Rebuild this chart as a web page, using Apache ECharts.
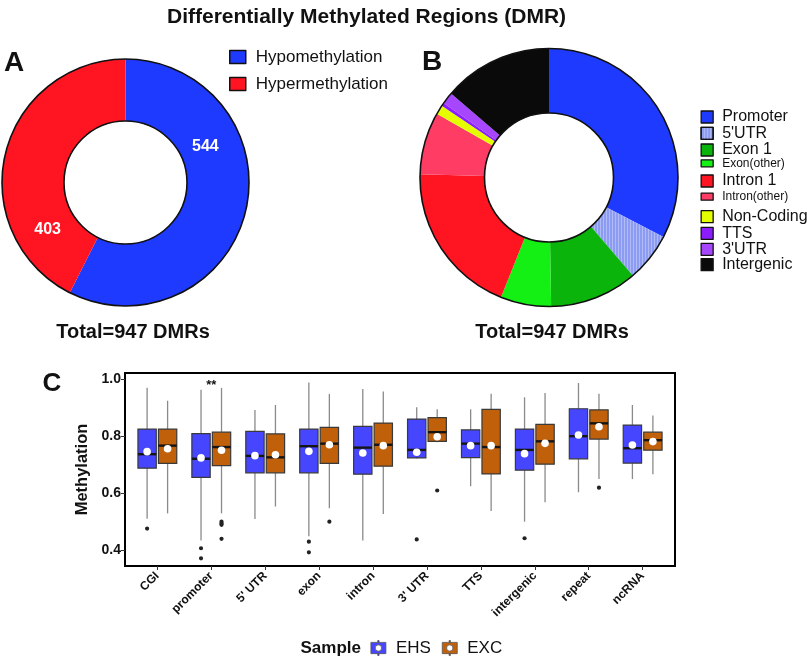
<!DOCTYPE html>
<html>
<head>
<meta charset="utf-8">
<script src="https://cdn.jsdelivr.net/npm/echarts@6/dist/echarts.min.js"></script>
<style>html,body{margin:0;padding:0;background:#fff}#chart{width:807px;height:670px}</style>
</head>
<body>
<div id="chart"></div>
<script>
// ---------- Data ----------
const titleText = 'Differentially Methylated Regions (DMR)';
const totalText = 'Total=947 DMRs';

// Panel A
const dmrDirections = ['Hypomethylation', 'Hypermethylation'];
const dmrDirectionCounts = [544, 403];
const dmrDirectionColors = ['#1f3aff', '#ff1422'];

// Panel B
const regionNames = ['Promoter', "5'UTR", 'Exon 1', 'Exon(other)', 'Intron 1', 'Intron(other)', 'Non-Coding', 'TTS', "3'UTR", 'Intergenic'];
const regionCounts = [309, 58, 104, 60, 183, 74, 11, 4, 14, 130];
const regionColors = ['#1f3aff', '#8c9cf2', '#0ab40a', '#14f014', '#ff1422', '#ff3c64', '#e6ff00', '#8a1cff', '#a646ff', '#0a0a0a'];
const regionSmall = [false, false, false, true, false, true, false, false, false, false];

// Panel C
const featureCategories = ['CGI', 'promoter', "5' UTR", 'exon', 'intron', "3' UTR", 'TTS', 'intergenic', 'repeat', 'ncRNA'];
const yTicks = [0.4, 0.6, 0.8, 1.0];

const ehsLow  = [0.511, 0.435, 0.510, 0.450, 0.435, 0.722, 0.625, 0.501, 0.604, 0.650];
const ehsQ1   = [0.688, 0.656, 0.672, 0.672, 0.667, 0.724, 0.725, 0.681, 0.721, 0.706];
const ehsMed  = [0.737, 0.721, 0.731, 0.765, 0.760, 0.752, 0.774, 0.752, 0.800, 0.758];
const ehsQ3   = [0.825, 0.809, 0.817, 0.825, 0.834, 0.860, 0.822, 0.825, 0.896, 0.839];
const ehsHigh = [0.969, 0.962, 0.892, 0.988, 0.965, 0.901, 0.894, 0.936, 0.986, 0.909];
const ehsMean = [0.746, 0.724, 0.732, 0.747, 0.741, 0.744, 0.767, 0.739, 0.804, 0.769];

const excLow  = [0.530, 0.530, 0.554, 0.548, 0.528, 0.779, 0.538, 0.569, 0.650, 0.667];
const excQ1   = [0.705, 0.697, 0.672, 0.705, 0.695, 0.782, 0.668, 0.702, 0.790, 0.751];
const excMed  = [0.767, 0.762, 0.726, 0.774, 0.770, 0.814, 0.762, 0.782, 0.845, 0.786];
const excQ3   = [0.825, 0.814, 0.808, 0.831, 0.846, 0.865, 0.894, 0.841, 0.892, 0.814];
const excHigh = [0.924, 0.969, 0.909, 0.948, 0.956, 0.894, 0.948, 0.951, 0.948, 0.872];
const excMean = [0.756, 0.751, 0.735, 0.770, 0.767, 0.798, 0.767, 0.775, 0.833, 0.781];

// outliers: [category index, value]
const ehsOutliers = [[0, 0.477], [1, 0.408], [1, 0.373], [3, 0.431], [3, 0.394], [5, 0.439], [7, 0.443]];
const excOutliers = [[1, 0.501], [1, 0.495], [1, 0.490], [1, 0.441], [3, 0.501], [5, 0.610], [8, 0.620]];

const significance = [[1, 0.976, '**']];

const sampleNames = ['EHS', 'EXC'];
const sampleColors = ['#4646ff', '#c0600a'];

// ---------- Build ----------
const FONT = '"Liberation Sans", Arial, Helvetica, sans-serif';
const chart = echarts.init(document.getElementById('chart'), null, {renderer: 'canvas'});

const boxOffset = 0.19;   // fraction of band
const boxFrac = 0.34;

function boxRows(low, q1, med, q3, high, mean) {
  return featureCategories.map((c, i) => [i, low[i], q1[i], med[i], q3[i], high[i], mean[i]]);
}
function boxRenderer(off, fill) {
  return function (params, api) {
    const i = api.value(0);
    const band = api.size([1, 0])[0];
    const cx = api.coord([i, 0.7])[0] + off * band;
    const w = boxFrac * band;
    const y = k => api.coord([i, api.value(k)])[1];
    const yLow = y(1), yQ1 = y(2), yMed = y(3), yQ3 = y(4), yHigh = y(5), yMean = y(6);
    const wl = {stroke: '#8a8a8a', lineWidth: 1.3};
    return {
      type: 'group',
      children: [
        {type: 'line', shape: {x1: cx, y1: yHigh, x2: cx, y2: yQ3}, style: wl},
        {type: 'line', shape: {x1: cx, y1: yQ1, x2: cx, y2: yLow}, style: wl},
        {type: 'rect', shape: {x: cx - w / 2, y: yQ3, width: w, height: yQ1 - yQ3}, style: {fill: fill, stroke: '#3a3a3a', lineWidth: 1.2}},
        {type: 'line', shape: {x1: cx - w / 2, y1: yMed, x2: cx + w / 2, y2: yMed}, style: {stroke: '#151515', lineWidth: 2.4}},
        {type: 'circle', shape: {cx: cx, cy: yMean, r: 3.8}, style: {fill: '#ffffff'}}
      ]
    };
  };
}
function outlierRenderer(off) {
  return function (params, api) {
    const i = api.value(0);
    const band = api.size([1, 0])[0];
    const p = api.coord([i, api.value(1)]);
    return {type: 'circle', shape: {cx: p[0] + off * band, cy: p[1], r: 2.1}, style: {fill: '#222'}};
  };
}

const legendIcon = 'path://M0,2 L16,2 L16,14 L0,14 Z M8,4.6 A3.4,3.4 0 1 0 8,11.4 A3.4,3.4 0 1 0 8,4.6 Z M7.3,0 L8.7,0 L8.7,2 L7.3,2 Z M7.3,14 L8.7,14 L8.7,16 L7.3,16 Z';

// Panel B legends (one per row for the uneven spacing of the reference)
const bRowCenters = [117, 133.3, 150, 163.3, 181, 196.7, 216.7, 233.3, 249.3, 264.7];
const legendsB = regionNames.map((n, i) => {
  const small = regionSmall[i];
  const fs = small ? 12 : 16;
  return {
    data: [n], orient: 'vertical', left: 700.5, top: bRowCenters[i] - fs / 2, padding: 0,
    icon: 'rect', itemWidth: 12, itemHeight: small ? 7 : 12,
    itemStyle: {borderColor: '#111', borderWidth: 1.3},
    textStyle: {fontFamily: FONT, fontSize: fs, lineHeight: fs, color: '#111', padding: [0, 0, 0, 4]},
    selectedMode: false
  };
});

const option = {
  animation: false,
  backgroundColor: '#ffffff',
  textStyle: {fontFamily: FONT},
  legend: [
    {
      data: dmrDirections, orient: 'vertical', left: 229, top: 48.5, padding: 0, itemGap: 10,
      icon: 'rect', itemWidth: 16, itemHeight: 13,
      itemStyle: {borderColor: '#111', borderWidth: 1.5},
      textStyle: {fontFamily: FONT, fontSize: 17, lineHeight: 17, color: '#111', padding: [0, 0, 0, 5]},
      selectedMode: false
    },
    ...legendsB,
    {
      data: sampleNames.map(n => ({name: n, icon: legendIcon})), orient: 'horizontal', left: 370.5, top: 639.5, padding: 0,
      itemGap: 11, itemWidth: 15, itemHeight: 15,
      itemStyle: {borderColor: '#555', borderWidth: 0.8},
      textStyle: {fontFamily: FONT, fontSize: 17, lineHeight: 17, color: '#111', padding: [0, 0, 0, 5]},
      selectedMode: false
    }
  ],
  grid: [
    {left: 125, top: 373, width: 550, height: 193, show: true, borderColor: '#000', borderWidth: 2, backgroundColor: 'transparent'},
    {left: 125 + 550 * 0.1 / 10.2, top: 373, width: 550 * 10 / 10.2, height: 193, show: false}
  ],
  xAxis: [
    {type: 'value', gridIndex: 0, show: false, min: 0, max: 1},
    {type: 'category', gridIndex: 1, data: featureCategories,
      axisLine: {show: false},
      axisTick: {show: true, alignWithLabel: true, length: 4, lineStyle: {color: '#333', width: 1}},
      axisLabel: {rotate: 45, margin: 8, fontFamily: FONT, fontSize: 12, fontWeight: 'bold', color: '#111', interval: 0},
      splitLine: {show: false}
    }
  ],
  yAxis: [
    {type: 'value', gridIndex: 0, min: 0.346, max: 1.021,
      axisLine: {show: false},
      axisTick: {show: true, length: 4, customValues: yTicks, lineStyle: {color: '#333', width: 1}},
      axisLabel: {customValues: yTicks, formatter: v => v.toFixed(1), margin: 4, fontFamily: FONT, fontSize: 14, fontWeight: 'bold', color: '#111'},
      splitLine: {show: false},
      name: 'Methylation', nameLocation: 'middle', nameGap: 30,
      nameTextStyle: {fontFamily: FONT, fontSize: 16.5, fontWeight: 'bold', color: '#111'}
    },
    {type: 'value', gridIndex: 1, min: 0.346, max: 1.021, show: false}
  ],
  series: [
    {
      type: 'pie', name: 'direction', center: [125.5, 182.5], radius: [61.5, 123.5], startAngle: 90, clockwise: true,
      data: dmrDirections.map((n, i) => ({name: n, value: dmrDirectionCounts[i], itemStyle: {color: dmrDirectionColors[i]}})),
      label: {show: true, position: 'inside', formatter: '{c}', color: '#fff', fontFamily: FONT, fontSize: 16, fontWeight: 'bold'},
      labelLine: {show: false},
      labelLayout: p => (p.dataIndex === 0 ? {dx: -13, dy: -58} : {dx: 15, dy: 69}),
      silent: true
    },
    {
      type: 'pie', name: 'ringA', center: [125.5, 182.5], radius: [61.5, 123.5],
      data: [{name: '_ringA', value: 1}], itemStyle: {color: 'rgba(0,0,0,0)', borderColor: '#111', borderWidth: 1.6},
      label: {show: false}, labelLine: {show: false}, silent: true, z: 5
    },
    {
      type: 'pie', name: 'region', center: [549, 177.5], radius: [64.5, 129], startAngle: 90, clockwise: true,
      data: regionNames.map((n, i) => {
        const it = {name: n, value: regionCounts[i], itemStyle: {color: regionColors[i]}};
        if (n === "5'UTR") {
          it.itemStyle.decal = {symbol: 'rect', symbolSize: 1, dashArrayX: [[1, 2]], dashArrayY: [1, 0], color: 'rgba(255,255,255,0.3)', rotation: 0};
        }
        return it;
      }),
      label: {show: false}, labelLine: {show: false}, silent: true
    },
    {
      type: 'pie', name: 'ringB', center: [549, 177.5], radius: [64.5, 129],
      data: [{name: '_ringB', value: 1}], itemStyle: {color: 'rgba(0,0,0,0)', borderColor: '#111', borderWidth: 1.6},
      label: {show: false}, labelLine: {show: false}, silent: true, z: 5
    },
    {
      type: 'custom', name: 'EHS', xAxisIndex: 1, yAxisIndex: 1,
      itemStyle: {color: sampleColors[0]},
      data: boxRows(ehsLow, ehsQ1, ehsMed, ehsQ3, ehsHigh, ehsMean),
      encode: {x: 0, y: [1, 2, 3, 4, 5, 6]},
      renderItem: boxRenderer(-boxOffset, sampleColors[0]), silent: true
    },
    {
      type: 'custom', name: 'EXC', xAxisIndex: 1, yAxisIndex: 1,
      itemStyle: {color: sampleColors[1]},
      data: boxRows(excLow, excQ1, excMed, excQ3, excHigh, excMean),
      encode: {x: 0, y: [1, 2, 3, 4, 5, 6]},
      renderItem: boxRenderer(boxOffset, sampleColors[1]), silent: true
    },
    {
      type: 'custom', name: 'EHS outliers', xAxisIndex: 1, yAxisIndex: 1,
      data: ehsOutliers, encode: {x: 0, y: 1}, renderItem: outlierRenderer(-boxOffset), silent: true
    },
    {
      type: 'custom', name: 'EXC outliers', xAxisIndex: 1, yAxisIndex: 1,
      data: excOutliers, encode: {x: 0, y: 1}, renderItem: outlierRenderer(boxOffset), silent: true
    },
    {
      type: 'custom', name: 'significance', xAxisIndex: 1, yAxisIndex: 1,
      data: significance, encode: {x: 0, y: 1},
      renderItem: function (params, api) {
        const p = api.coord([api.value(0), api.value(1)]);
        return {type: 'text', x: p[0], y: p[1], style: {text: significance[params.dataIndex][2], fill: '#111', font: 'bold 13px ' + FONT, align: 'center', verticalAlign: 'middle'}};
      },
      silent: true
    }
  ],
  graphic: [
    {type: 'text', left: 367 - 200, top: 7, style: {text: titleText, fill: '#111', font: 'bold 21px ' + FONT}},
    {type: 'text', x: 14, y: 63, style: {text: 'A', fill: '#111', font: 'bold 28px ' + FONT, align: 'center', verticalAlign: 'middle'}},
    {type: 'text', x: 432, y: 62, style: {text: 'B', fill: '#111', font: 'bold 28px ' + FONT, align: 'center', verticalAlign: 'middle'}},
    {type: 'text', x: 52, y: 384, style: {text: 'C', fill: '#111', font: 'bold 26px ' + FONT, align: 'center', verticalAlign: 'middle'}},
    {type: 'text', x: 133, y: 332, style: {text: totalText, fill: '#111', font: 'bold 20px ' + FONT, align: 'center', verticalAlign: 'middle'}},
    {type: 'text', x: 552, y: 332, style: {text: totalText, fill: '#111', font: 'bold 20px ' + FONT, align: 'center', verticalAlign: 'middle'}},
    {type: 'text', x: 300.5, y: 648, style: {text: 'Sample', fill: '#111', font: 'bold 17px ' + FONT, align: 'left', verticalAlign: 'middle'}}
  ]
};
chart.setOption(option);
</script>
</body>
</html>
